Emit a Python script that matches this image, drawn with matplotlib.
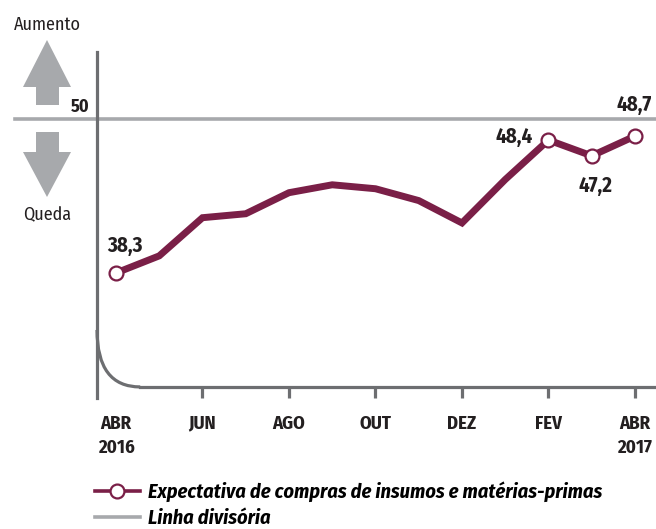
import numpy as np
import matplotlib
matplotlib.use('Agg')
import matplotlib.pyplot as plt
from matplotlib.patches import Polygon, PathPatch
from matplotlib.path import Path
from matplotlib.lines import Line2D

months = ['ABR', 'MAI', 'JUN', 'JUL', 'AGO', 'SET', 'OUT', 'NOV', 'DEZ', 'JAN', 'FEV', 'MAR', 'ABR']
values = [38.3, 39.6, 42.5, 42.8, 44.4, 45.0, 44.7, 43.8, 42.1, 45.4, 48.4, 47.2, 48.7]
tick_pos = [0, 2, 4, 6, 8, 10, 12]
tick_labels = ['ABR\n2016', 'JUN', 'AGO', 'OUT', 'DEZ', 'FEV', 'ABR\n2017']
marked = [0, 10, 11, 12]
divisor = 50
series_name = 'Expectativa de compras de insumos e matérias-primas'
divisor_name = 'Linha divisória'

maroon = '#7a1f47'
light_grey = '#a7a9ac'
dark_grey = '#6d6e71'
txt_col = '#231f20'
narrow = ['Fira Sans Condensed', 'Roboto Condensed', 'DejaVu Sans']

plt.rcParams['font.family'] = narrow

fig = plt.figure(figsize=(6.56, 5.29), dpi=100)

# overlay in pixel coordinates for the side decorations
deco = fig.add_axes([0, 0, 1, 1])
deco.set_xlim(0, 656)
deco.set_ylim(529, 0)
deco.axis('off')

up = [(47, 40), (71, 87), (59, 87), (59, 105), (36, 105), (36, 87), (23, 87)]
down = [(36, 132), (59, 132), (59, 152), (71, 152), (47, 197), (23, 152), (36, 152)]
deco.add_patch(Polygon(up, closed=True, fc=light_grey, ec='none'))
deco.add_patch(Polygon(down, closed=True, fc=light_grey, ec='none'))
deco.text(47, 25, 'Aumento', ha='center', va='center', fontsize=13, color=txt_col)
deco.text(47, 215, 'Queda', ha='center', va='center', fontsize=13, color=txt_col)
deco.text(89, 107, '50', ha='right', va='center', fontsize=13, fontweight='bold', color=txt_col)

# main axes
ax = fig.add_axes([97 / 656, 1 - 398 / 529, 559 / 656, 346 / 529])
ax.set_zorder(2)
ax.patch.set_alpha(0)
ax.set_xlim(-0.439, 12.486)
ax.set_ylim(28.80, 55.09)
base_y = 29.64

for s in ['top', 'right']:
    ax.spines[s].set_visible(False)
ax.spines['left'].set_color(dark_grey)
ax.spines['left'].set_linewidth(2.3)
ax.spines['bottom'].set_color(dark_grey)
ax.spines['bottom'].set_linewidth(2.3)
ax.spines['bottom'].set_position(('data', base_y))
ax.spines['bottom'].set_bounds(0.55, 12.486)
ax.set_yticks([])

# rounded corner joining the two axis lines
corner = Path([(-0.439, 33.97), (-0.439, base_y), (0.56, base_y)],
              [Path.MOVETO, Path.CURVE3, Path.CURVE3])
ax.add_patch(PathPatch(corner, fc='none', ec=dark_grey, lw=2.3, clip_on=False))

ax.set_xticks(tick_pos)
ax.set_xticklabels(tick_labels, fontsize=13.5, fontweight='bold', color=txt_col, linespacing=1.45)
ax.tick_params(axis='x', direction='out', length=8, width=2.3, color=dark_grey, pad=12)
ax.xaxis.get_major_ticks()[0].tick1line.set_visible(False)

x = np.arange(len(values))
ax.plot([-2.335, 12.486], [divisor, divisor], color=light_grey, lw=2.6,
        clip_on=False, zorder=1)
ax.plot(x, values, color=maroon, lw=5, solid_joinstyle='miter',
        marker='o', markevery=marked, markersize=10, markerfacecolor='white',
        markeredgecolor=maroon, markeredgewidth=1.6, zorder=3, clip_on=False)

offsets = {0: (9, 27, 'center'), 10: (-16, 3, 'right'), 11: (4, -30, 'center'), 12: (-1, 31, 'center')}
for i, (dx, dy, ha) in offsets.items():
    ax.annotate(f'{values[i]:.1f}'.replace('.', ','), (x[i], values[i]),
                xytext=(dx, dy), textcoords='offset pixels', ha=ha, va='center',
                fontsize=15, fontweight='bold', color=txt_col)

h_series = Line2D([], [], color=maroon, lw=2.6, marker='o', markersize=10,
                  markerfacecolor='white', markeredgecolor=maroon, markeredgewidth=1.6)
h_div = Line2D([], [], color=light_grey, lw=2.6)
fig.legend(handles=[h_series, h_div], labels=[series_name, divisor_name],
           loc='upper left', bbox_to_anchor=(95 / 656, 1 - 481 / 529),
           frameon=False, handlelength=2.2, handletextpad=0.4, labelspacing=0.33,
           borderaxespad=0, borderpad=0, numpoints=1,
           prop={'family': narrow, 'size': 14.6, 'weight': 'bold', 'style': 'italic'})

fig.savefig('out.png', dpi=100)
